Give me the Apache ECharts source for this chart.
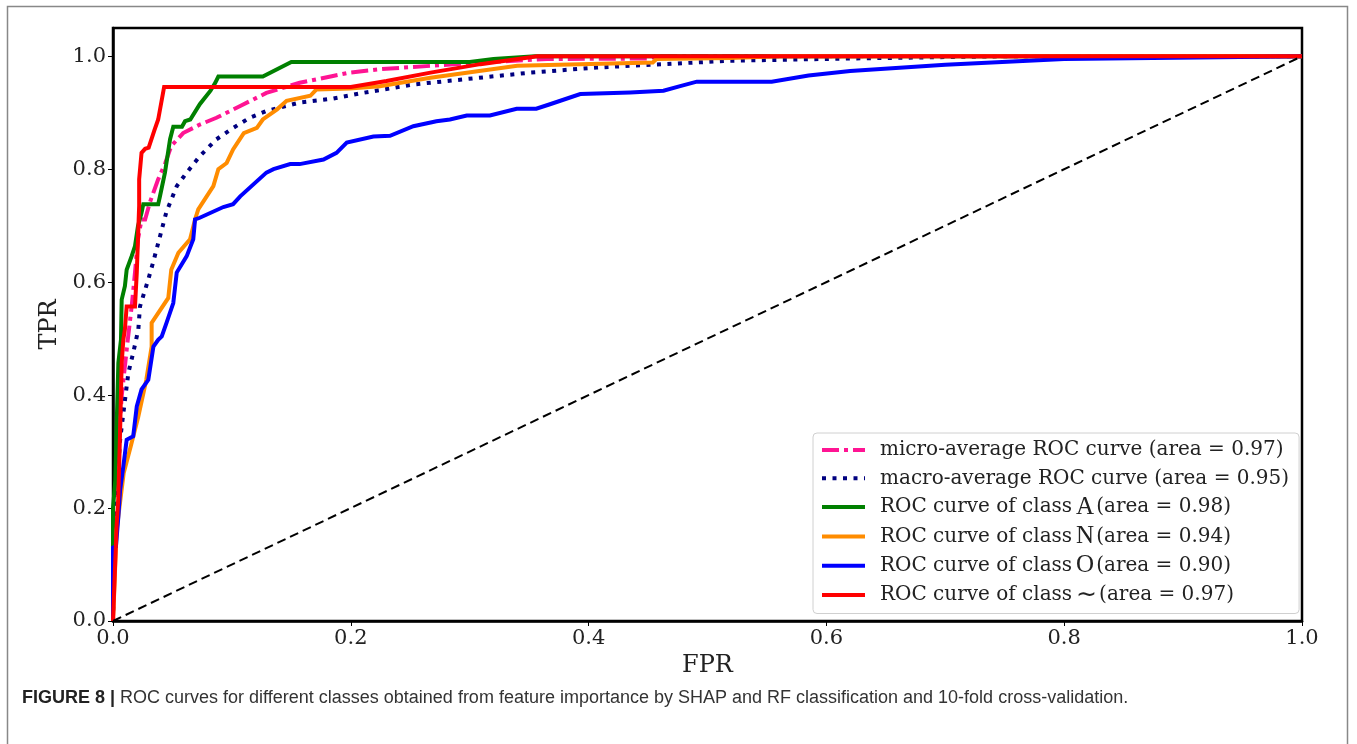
<!DOCTYPE html>
<html>
<head>
<meta charset="utf-8">
<script src="https://cdn.jsdelivr.net/npm/echarts@6/dist/echarts.min.js"></script>
<style>
html,body{margin:0;padding:0;background:#fff;}
#chart{width:1357px;height:744px;}
</style>
</head>
<body>
<div id="chart"></div>
<script>
// ---- Data ----
const xTicks = [0, 0.2, 0.4, 0.6, 0.8, 1.0];
const yTicks = [0, 0.2, 0.4, 0.6, 0.8, 1.0];

const microFpr = [0, 0.001, 0.003, 0.0073, 0.012, 0.0157, 0.0185, 0.021, 0.024, 0.027, 0.031, 0.038, 0.044, 0.049, 0.059, 0.073, 0.087, 0.107, 0.129, 0.157, 0.185, 0.199, 0.2245, 0.267, 0.309, 0.365, 0.452, 0.456, 1.0];
const microTpr = [0, 0.15, 0.25, 0.398, 0.49, 0.557, 0.617, 0.676, 0.711, 0.711, 0.741, 0.782, 0.811, 0.841, 0.864, 0.879, 0.891, 0.912, 0.935, 0.953, 0.965, 0.971, 0.977, 0.983, 0.989, 0.995, 0.996, 1.0, 1.0];

const macroFpr = [0, 0.002, 0.006, 0.0087, 0.0129, 0.017, 0.0213, 0.0227, 0.0297, 0.034, 0.040, 0.045, 0.0536, 0.062, 0.073, 0.087, 0.101, 0.115, 0.129, 0.157, 0.185, 0.21, 0.2526, 0.2946, 0.351, 0.4068, 0.463, 0.519, 0.62, 0.75, 1.0];
const macroTpr = [0, 0.2, 0.321, 0.368, 0.439, 0.475, 0.516, 0.557, 0.605, 0.637, 0.685, 0.725, 0.77, 0.794, 0.823, 0.853, 0.873, 0.891, 0.903, 0.918, 0.925, 0.935, 0.95, 0.959, 0.971, 0.98, 0.986, 0.992, 0.996, 1.0, 1.0];

const aFpr = [0, 0, 0.002, 0.003, 0.0045, 0.0067, 0.0073, 0.010, 0.0115, 0.0157, 0.0185, 0.021, 0.024, 0.0255, 0.038, 0.0395, 0.0437, 0.048, 0.0507, 0.058, 0.0606, 0.065, 0.073, 0.082, 0.086, 0.0886, 0.126, 0.150, 0.30, 0.32, 0.355, 1.0];
const aTpr = [0, 0.2, 0.25, 0.339, 0.457, 0.498, 0.569, 0.593, 0.622, 0.646, 0.664, 0.699, 0.723, 0.738, 0.738, 0.752, 0.794, 0.853, 0.875, 0.875, 0.885, 0.888, 0.915, 0.939, 0.953, 0.964, 0.964, 0.990, 0.990, 0.995, 1.0, 1.0];

const nFpr = [0, 0.001, 0.003, 0.009, 0.015, 0.0213, 0.028, 0.0325, 0.0325, 0.0465, 0.049, 0.055, 0.0648, 0.069, 0.0717, 0.0788, 0.0844, 0.0886, 0.0956, 0.101, 0.110, 0.121, 0.126, 0.138, 0.146, 0.166, 0.171, 0.199, 0.2245, 0.267, 0.34, 0.454, 0.457, 0.519, 0.56, 1.0];
const nTpr = [0, 0.05, 0.16, 0.262, 0.31, 0.362, 0.427, 0.486, 0.528, 0.572, 0.622, 0.652, 0.676, 0.711, 0.729, 0.752, 0.770, 0.800, 0.811, 0.835, 0.864, 0.873, 0.888, 0.906, 0.921, 0.930, 0.941, 0.943, 0.947, 0.962, 0.983, 0.989, 0.995, 0.997, 1.0, 1.0];

const oFpr = [0, 0, 0.0025, 0.0045, 0.006, 0.0087, 0.0115, 0.017, 0.020, 0.024, 0.0297, 0.034, 0.038, 0.041, 0.045, 0.0507, 0.0536, 0.062, 0.0675, 0.069, 0.073, 0.0928, 0.101, 0.107, 0.129, 0.135, 0.149, 0.157, 0.177, 0.188, 0.1966, 0.219, 0.233, 0.2526, 0.272, 0.2834, 0.2975, 0.317, 0.3395, 0.356, 0.3675, 0.393, 0.435, 0.463, 0.477, 0.491, 0.554, 0.585, 0.62, 0.70, 0.80, 0.93, 1.0];
const oTpr = [0, 0.13, 0.132, 0.185, 0.232, 0.274, 0.321, 0.327, 0.380, 0.410, 0.427, 0.486, 0.498, 0.504, 0.528, 0.563, 0.617, 0.646, 0.676, 0.711, 0.714, 0.733, 0.738, 0.752, 0.794, 0.800, 0.809, 0.809, 0.817, 0.829, 0.847, 0.858, 0.859, 0.876, 0.885, 0.888, 0.895, 0.895, 0.907, 0.907, 0.915, 0.933, 0.936, 0.939, 0.947, 0.955, 0.955, 0.966, 0.974, 0.985, 0.995, 0.998, 1.0];

const tFpr = [0, 0.003, 0.0045, 0.006, 0.0073, 0.0087, 0.010, 0.0115, 0.0185, 0.020, 0.022, 0.022, 0.024, 0.027, 0.030, 0.035, 0.038, 0.043, 0.20, 0.23, 0.267, 0.309, 0.357, 1.0];
const tTpr = [0, 0.167, 0.220, 0.339, 0.457, 0.498, 0.516, 0.557, 0.557, 0.617, 0.735, 0.782, 0.829, 0.836, 0.838, 0.870, 0.888, 0.9456, 0.9456, 0.956, 0.971, 0.986, 1.0, 1.0];

const chanceFpr = [0, 1];
const chanceTpr = [0, 1];

const seriesNames = [
  'micro-average ROC curve (area = 0.97)',
  'macro-average ROC curve (area = 0.95)',
  'ROC curve of class A (area = 0.98)',
  'ROC curve of class N (area = 0.94)',
  'ROC curve of class O (area = 0.90)',
  'ROC curve of class ~ (area = 0.97)'
];
const legendLabels = [
  '{t|micro-average ROC curve (area = 0.97)}',
  '{t|macro-average ROC curve (area = 0.95)}',
  '{t|ROC curve of class}{m|A}{t|(area = 0.98)}',
  '{t|ROC curve of class}{m|N}{t|(area = 0.94)}',
  '{t|ROC curve of class}{m|O}{t|(area = 0.90)}',
  '{t|ROC curve of class}{m|\u223C}{t|(area = 0.97)}'
];
const caption = 'FIGURE 8 |';
const captionText = ' ROC curves for different classes obtained from feature importance by SHAP and RF classification and 10-fold cross-validation.';

function zip(a, b) { return a.map((v, i) => [v, b[i]]); }

const serif = 'DejaVu Serif';
const chart = echarts.init(document.getElementById('chart'), null, {renderer: 'canvas'});

function lineSeries(name, fpr, tpr, color, type, z) {
  return {
    name: name, type: 'line', data: zip(fpr, tpr), symbol: 'none',
    lineStyle: {color: color, width: 4, type: type, cap: 'butt', join: 'miter'},
    itemStyle: {color: color},
    z: z, animation: false
  };
}

chart.setOption({
  animation: false,
  backgroundColor: '#fff',
  grid: {left: 113, right: 55, top: 28, bottom: 123, containLabel: false,
         show: true, borderColor: '#000', borderWidth: 2.5, backgroundColor: 'transparent'},
  xAxis: {
    type: 'value', min: 0, max: 1, interval: 0.2,
    name: 'FPR', nameLocation: 'middle', nameGap: 30,
    nameTextStyle: {fontFamily: serif, fontSize: 24, color: '#222'},
    axisLine: {show: true, lineStyle: {color: '#000', width: 2.5}},
    axisTick: {show: true, length: 5, lineStyle: {color: '#000', width: 1}, customValues: xTicks},
    axisLabel: {fontFamily: serif, fontSize: 21, color: '#222', margin: 7, customValues: xTicks,
                formatter: v => v.toFixed(1)},
    splitLine: {show: false}
  },
  yAxis: {
    type: 'value', min: 0, max: 1.05,
    name: 'TPR', nameLocation: 'middle', nameGap: 39,
    nameTextStyle: {fontFamily: serif, fontSize: 24, color: '#222'},
    axisLine: {show: true, lineStyle: {color: '#000', width: 2.5}},
    axisTick: {show: true, length: 5, lineStyle: {color: '#000', width: 1}, customValues: yTicks},
    axisLabel: {fontFamily: serif, fontSize: 21, color: '#222', margin: 7, customValues: yTicks,
                formatter: v => v.toFixed(1)},
    splitLine: {show: false}
  },
  legend: {
    data: seriesNames,
    orient: 'vertical', left: 813, top: 433,
    itemWidth: 43, itemHeight: 24, itemGap: 4.3,
    padding: [5, 10, 6, 7],
    backgroundColor: 'rgba(255,255,255,0.85)',
    borderColor: '#d0d0d0', borderWidth: 1, borderRadius: 4,
    lineStyle: {width: 4},
    itemStyle: {opacity: 0},
    formatter: function (name) { return legendLabels[seriesNames.indexOf(name)]; },
    textStyle: {
      padding: [0, 0, 0, 10],
      lineHeight: 24,
      rich: {
        t: {fontFamily: serif, fontSize: 20, color: '#222', lineHeight: 24, height: 24},
        m: {fontFamily: 'Liberation Serif', fontSize: 25, color: '#222', lineHeight: 24, height: 24, padding: [0, 2, 0, 4]}
      }
    }
  },
  series: [
    lineSeries(seriesNames[0], microFpr, microTpr, '#ff1493', [17, 5, 4, 5], 2),
    lineSeries(seriesNames[1], macroFpr, macroTpr, '#000080', [4, 6.5], 3),
    lineSeries(seriesNames[2], aFpr, aTpr, '#008000', 'solid', 4),
    lineSeries(seriesNames[3], nFpr, nTpr, '#ff8c00', 'solid', 5),
    lineSeries(seriesNames[4], oFpr, oTpr, '#0000ff', 'solid', 6),
    lineSeries(seriesNames[5], tFpr, tTpr, '#ff0000', 'solid', 7),
    {
      name: 'chance', type: 'line', data: zip(chanceFpr, chanceTpr), symbol: 'none',
      lineStyle: {color: '#000', width: 2, type: [9, 5]}, z: 8, animation: false
    }
  ],
  graphic: [
    {type: 'rect', shape: {x: 7.5, y: 6.5, width: 1340, height: 800},
     style: {fill: 'none', stroke: '#888', lineWidth: 1.5}, silent: true},
    {type: 'text', left: 22, top: 689,
     style: {text: '{b|' + caption + '}{n|' + captionText + '}',
       rich: {
         b: {fontFamily: 'Liberation Sans Narrow, Liberation Sans, Arial', fontWeight: 'bold', fontSize: 18, fill: '#222'},
         n: {fontFamily: 'Liberation Sans Narrow, Liberation Sans, Arial', fontSize: 18, fill: '#333'}
       }}}
  ]
});
</script>
</body>
</html>
